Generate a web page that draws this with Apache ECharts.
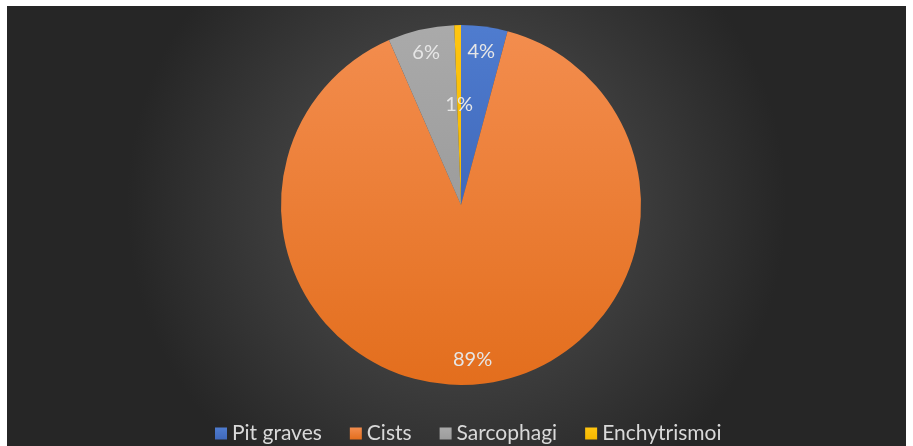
<!DOCTYPE html>
<html>
<head>
<meta charset="utf-8">
<script src="https://cdn.jsdelivr.net/npm/echarts@6/dist/echarts.min.js"></script>
<style>
  html, body { margin: 0; padding: 0; background: #ffffff; }
  #main { position: absolute; left: 7px; top: 6px; width: 899px; height: 440px; }
</style>
</head>
<body>
<div id="main"></div>
<script>
// burial types (counts read as shares of the pie)
const categories = ['Pit graves', 'Cists', 'Sarcophagi', 'Enchytrismoi'];
const counts = [7, 150, 10, 1];

const sliceColors = [
  ['#4f7ccf', '#4069bb'],
  ['#f38d4e', '#e36e1d'],
  ['#aaaaaa', '#9c9c9c'],
  ['#ffc510', '#f5b800']
];
// how far out each percentage label sits (fraction of radius)
const labelRadius = [0.86, 0.86, 0.87, 0.56];

const cx = 454, cy = 199, R = 180;

const myChart = echarts.init(document.getElementById('main'));

const option = {
  backgroundColor: {
    type: 'radial', x: 0.5, y: 0.45, r: 0.75,
    colorStops: [
      { offset: 0, color: '#575757' },
      { offset: 1, color: '#262626' }
    ]
  },
  animation: false,
  legend: {
    data: categories,
    bottom: -3,
    left: 203,
    itemWidth: 12,
    itemHeight: 12,
    itemGap: 28,
    icon: 'rect',
    textStyle: { color: '#d9d9d9', fontSize: 21, fontFamily: 'Lato' }
  },
  series: [
    {
      type: 'pie',
      center: [cx, cy],
      radius: [0, R],
      startAngle: 90,
      clockwise: true,
      avoidLabelOverlap: false,
      emphasis: { disabled: true },
      data: categories.map((name, i) => ({
        name: name,
        value: counts[i],
        itemStyle: {
          color: {
            type: 'linear', x: 0, y: 0, x2: 0, y2: 1,
            colorStops: [
              { offset: 0, color: sliceColors[i][0] },
              { offset: 1, color: sliceColors[i][1] }
            ]
          }
        }
      })),
      label: {
        show: true,
        position: 'inside',
        formatter: p => Math.round(p.percent) + '%',
        color: '#e6e6e6',
        fontSize: 20,
        fontFamily: 'Lato'
      },
      labelLine: { show: false },
      labelLayout: function (params) {
        const r = params.labelRect;
        const lx = r.x + r.width / 2;
        const ly = r.y + r.height / 2;
        const d = Math.sqrt((lx - cx) * (lx - cx) + (ly - cy) * (ly - cy)) || 1;
        const k = labelRadius[params.dataIndex] * R / d;
        return {
          dx: (lx - cx) * (k - 1),
          dy: (ly - cy) * (k - 1)
        };
      }
    }
  ]
};

myChart.setOption(option);
</script>
</body>
</html>
